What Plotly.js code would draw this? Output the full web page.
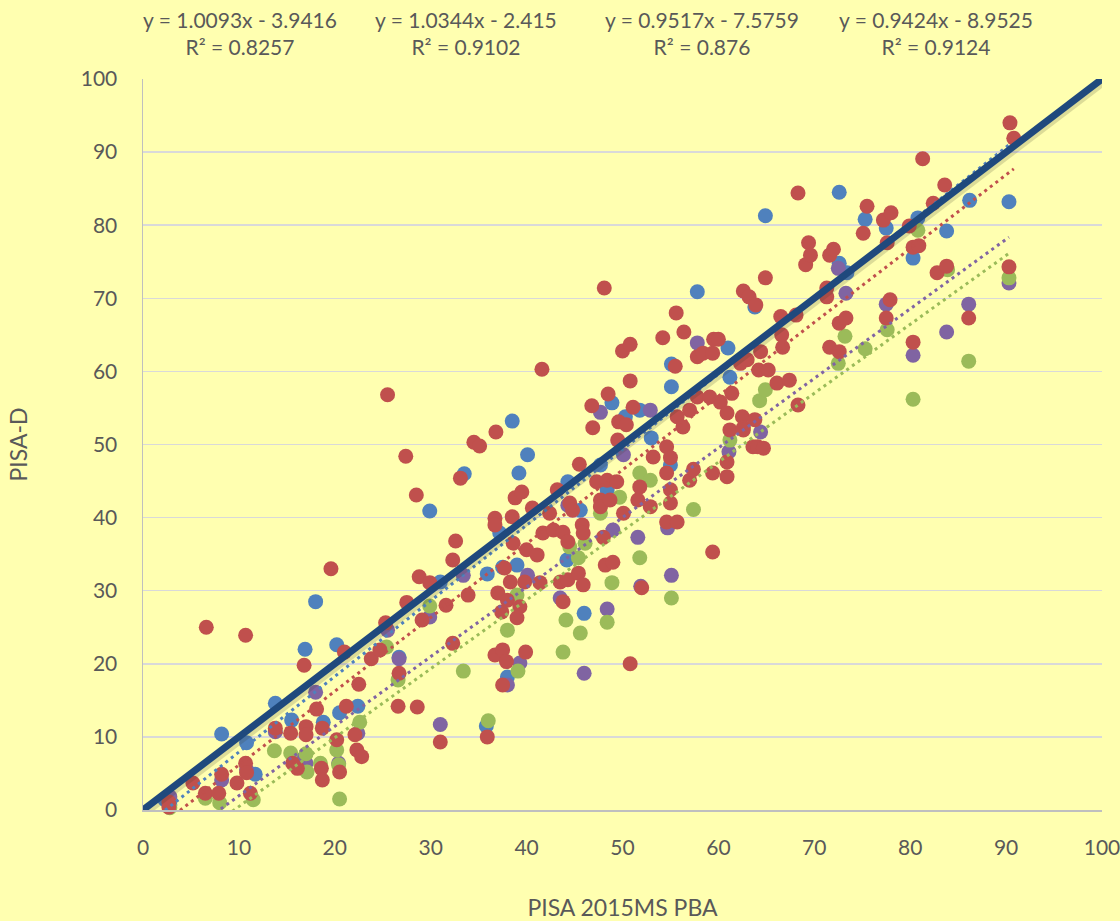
<!DOCTYPE html>
<html>
<head>
<meta charset="utf-8">
<script src="https://cdn.plot.ly/plotly-3.0.1.min.js"></script>
<style>html,body{margin:0;padding:0;background:#FFFFB0;}#chart{width:1120px;height:921px;}</style>
</head>
<body>
<div id="chart"></div>
<script>
// ---- data ----
const blueX = [2.3,2.8,8.2,10.8,11.7,13.8,15.5,16.9,18.0,18.8,20.2,20.5,22.4,26.7,29.9,31.0,33.5,35.8,35.9,37.5,39.0,37.2,38.5,40.1,39.2,38.0,44.2,44.3,45.6,46.0,47.7,48.4,48.9,50.3,51.8,53.0,55.0,55.1,55.1,57.8,61.2,61.0,63.8,64.9,72.6,72.6,73.4,75.3,77.5,80.3,80.8,83.8,86.2,90.3];
const blueY = [1.4,0.7,10.4,9.2,4.9,14.6,12.3,22.0,28.5,12.0,22.6,13.3,14.2,20.9,40.9,31.2,46.0,11.5,32.3,33.2,33.5,37.9,53.2,48.6,46.1,18.2,34.2,44.9,41.0,26.9,47.2,43.8,55.7,53.8,54.7,50.9,47.2,57.9,61.0,70.9,59.2,63.2,68.8,81.3,84.5,74.8,73.5,80.8,79.6,75.5,81.0,79.2,83.4,83.2];

const purpleX = [2.8,8.2,10.8,13.8,16.1,17.0,18.0,20.4,22.4,25.5,26.7,29.9,31.0,33.4,38.0,39.3,40.1,43.5,44.3,46.0,47.7,48.4,49.0,50.1,51.6,51.9,52.9,54.7,55.1,57.8,61.1,64.4,72.5,73.3,77.5,80.3,83.8,86.1,90.3];
const purpleY = [1.8,4.1,5.5,10.7,6.8,6.4,16.1,6.4,10.5,24.6,20.7,26.4,11.7,32.1,17.1,20.1,32.1,29.0,41.7,18.7,54.4,27.5,38.3,48.6,37.3,30.6,54.7,38.6,32.1,63.9,49.0,51.7,74.1,70.7,69.2,62.2,65.4,69.2,72.1];

const greenX = [2.8,6.5,8.0,11.5,13.7,15.4,17.0,17.1,18.5,20.2,20.4,20.5,22.6,25.4,26.6,29.9,33.4,36.0,38.0,39.0,39.1,43.8,44.1,44.5,45.4,45.6,46.1,47.7,48.4,48.9,49.7,51.8,51.8,52.9,55.1,57.4,61.2,64.3,64.9,72.5,73.2,75.3,77.6,80.3,80.8,83.9,86.1,90.3];
const greenY = [0.3,1.6,1.0,1.4,8.1,7.8,7.7,5.2,6.4,8.2,6.2,1.5,12.0,22.3,17.8,27.9,19.0,12.2,24.6,29.4,19.0,21.6,26.0,36.0,34.5,24.2,36.5,40.6,25.7,31.1,42.8,34.5,46.1,45.1,29.0,41.1,50.6,56.0,57.5,61.1,64.8,63.1,65.7,56.2,79.3,73.9,61.4,72.8];

const redX = [2.7,2.7,5.2,6.5,6.6,7.9,8.2,9.8,10.7,10.8,10.7,11.2,13.8,15.4,15.6,16.1,16.8,17.0,17.0,18.1,18.6,18.7,18.7,19.6,20.2,20.5,21.0,21.2,22.1,22.3,22.5,22.8,23.8,24.7,25.3,25.5,26.6,26.7,27.4,27.5,28.5,28.6,28.8,29.1,29.9,31.0,31.6,32.3,32.3,32.6,33.1,33.9,34.5,35.1,35.9,36.7,36.7,36.7,36.8,37.0,37.4,37.5,37.5,37.7,37.9,38.0,38.3,38.5,38.6,38.8,39.0,39.3,39.5,39.8,39.9,40.0,40.6,41.1,41.4,41.6,41.7,42.4,42.8,43.2,43.5,43.8,43.8,44.3,44.3,44.5,44.8,45.4,45.5,45.8,45.9,45.9,46.8,46.9,47.3,47.7,47.7,48.0,48.1,48.2,48.4,48.5,48.7,49.0,49.4,49.5,49.6,50.0,50.1,50.4,50.8,50.8,50.8,51.1,51.6,51.8,52.0,52.9,53.2,54.2,54.6,54.6,54.6,55.0,55.0,55.0,55.5,55.6,55.7,55.7,56.3,56.4,57.0,57.0,57.4,57.8,57.8,58.4,59.1,59.4,59.4,59.4,59.5,60.0,60.2,60.9,60.9,60.9,61.2,61.4,62.3,62.5,62.6,62.6,62.6,63.0,63.2,63.6,63.8,63.9,64.1,64.2,64.4,64.7,64.9,65.2,66.1,66.5,66.6,66.7,67.4,68.1,68.3,68.3,69.1,69.4,69.6,71.3,71.3,71.6,71.6,72.0,72.6,72.6,73.3,75.1,75.5,77.2,77.5,77.6,77.9,78.0,79.9,80.3,80.3,80.9,81.3,82.4,82.8,83.6,83.8,86.1,90.3,90.4,90.8];
const redY = [0.4,1.1,3.7,2.3,25.0,2.3,4.9,3.7,6.4,5.1,23.9,2.3,11.2,10.5,6.4,5.7,19.8,11.4,10.3,13.8,5.7,11.2,4.1,33.0,9.6,5.2,21.6,14.2,10.3,8.2,17.2,7.3,20.7,21.9,25.6,56.8,14.2,18.7,48.4,28.4,43.1,14.1,31.9,26.0,31.1,9.3,28.0,22.8,34.2,36.8,45.4,29.4,50.3,49.8,10.0,39.9,39.0,21.2,51.7,29.7,27.1,21.9,17.1,33.1,20.3,28.7,31.2,40.1,36.5,42.7,26.3,27.8,43.5,31.2,21.6,35.6,41.3,34.9,31.1,60.3,37.9,40.6,38.3,43.8,31.2,38.0,28.5,36.7,31.5,42.0,41.0,32.4,47.3,39.0,37.9,30.8,55.3,52.3,44.9,42.4,41.5,37.3,71.4,33.5,45.1,56.9,42.4,33.9,44.9,50.6,53.1,62.8,40.6,52.7,63.7,58.7,20.0,55.1,42.4,44.2,30.4,41.5,48.3,64.6,49.7,46.1,39.4,48.2,43.8,42.0,60.7,68.0,53.8,39.4,52.4,65.4,54.7,45.1,46.6,62.0,56.5,62.5,56.5,62.5,46.1,35.3,64.4,64.4,55.8,54.3,45.6,47.6,52.0,57.0,61.1,53.8,71.0,52.3,52.0,61.6,70.2,49.7,53.4,69.1,49.7,60.2,62.7,49.5,72.8,60.2,58.4,67.5,65.0,63.3,58.8,67.7,84.4,55.4,74.6,77.6,75.9,71.4,70.2,75.9,63.3,76.7,66.6,62.7,67.3,78.9,82.6,80.7,67.3,77.6,69.8,81.7,79.9,77.0,64.0,77.2,89.1,83.0,73.5,85.5,74.4,67.3,74.3,94.0,91.9];

// trendline equations shown on the chart (order: red, blue, purple, green)
const trendSlope = [1.0093, 1.0344, 0.9517, 0.9424];
const trendIntercept = [-3.9416, -2.415, -7.5759, -8.9525];
const trendR2 = ['0.8257', '0.9102', '0.876', '0.9124'];
const trendLabelX = [10.1, 33.7, 58.3, 82.7];

const refLine = [0, 100];
const axisTicks = [0,10,20,30,40,50,60,70,80,90,100];

// ---- styling ----
const C = {blue:'#4F81BD', red:'#C0504D', green:'#9BBB59', purple:'#8064A2', line:'#1F497D'};
const FONT = 'Lato, "Open Sans", sans-serif';
const TXT = '#595959';

function pts(x, y, col) {
  return {type:'scatter', mode:'markers', x:x, y:y, cliponaxis:false, showlegend:false, hoverinfo:'x+y',
    marker:{size:15, color:col, line:{width:0}}};
}
function trend(x, k, col) {
  const lo = Math.min.apply(null, x), hi = Math.max.apply(null, x);
  return {type:'scatter', mode:'lines', x:[lo, hi], y:[trendSlope[k]*lo + trendIntercept[k], trendSlope[k]*hi + trendIntercept[k]],
    showlegend:false, hoverinfo:'skip', line:{color:col, width:3, dash:'3px,4px'}};
}

const traces = [
  pts(blueX, blueY, C.blue),
  pts(purpleX, purpleY, C.purple),
  pts(greenX, greenY, C.green),
  pts(redX, redY, C.red),
  trend(redX, 0, C.red),
  trend(blueX, 1, C.blue),
  trend(purpleX, 2, C.purple),
  trend(greenX, 3, C.green),
  {type:'scatter', mode:'lines', x:refLine.map(v=>v+0.2), y:refLine.map(v=>v-0.35), showlegend:false, hoverinfo:'skip',
    line:{color:'rgba(60,60,40,0.18)', width:8}},
  {type:'scatter', mode:'lines', x:refLine, y:refLine, showlegend:false, hoverinfo:'skip',
    line:{color:C.line, width:7}}
];

const annotations = trendSlope.map((s, i) => ({
  xref:'x', yref:'paper', x:trendLabelX[i], y:1.063, xanchor:'center', yanchor:'middle', showarrow:false, align:'center',
  text:'y = ' + s + 'x - ' + Math.abs(trendIntercept[i]) + '<br>R² = ' + trendR2[i],
  font:{family:FONT, size:21, color:TXT}
}));

const layout = {
  width:1120, height:921,
  margin:{l:143, r:18, t:79, b:111},
  paper_bgcolor:'#FFFFB0', plot_bgcolor:'#FFFFB0',
  showlegend:false,
  font:{family:FONT, size:21, color:TXT},
  xaxis:{range:[0,100], tickvals:axisTicks, showgrid:false, zeroline:false, showline:true, linecolor:'#BFBFBF', linewidth:1.5,
    ticks:'outside', ticklen:18, tickcolor:'rgba(0,0,0,0)', tickfont:{family:FONT, size:21, color:TXT},
    ticklabeloverflow:'allow',
    title:{text:'PISA 2015MS PBA', font:{family:FONT, size:23, color:TXT}, standoff:42}, automargin:false},
  yaxis:{range:[0,100], tickvals:axisTicks, showgrid:true, gridcolor:'#D9D9D9', gridwidth:1.5, zeroline:false, showline:true,
    linecolor:'#BFBFBF', linewidth:1.5, ticks:'outside', ticklen:20, tickcolor:'rgba(0,0,0,0)',
    tickfont:{family:FONT, size:21, color:TXT},
    title:{text:'PISA-D', font:{family:FONT, size:23, color:TXT}, standoff:46}, automargin:false},
  annotations:annotations
};

Plotly.newPlot('chart', traces, layout, {displayModeBar:false, staticPlot:true});
</script>
</body>
</html>
